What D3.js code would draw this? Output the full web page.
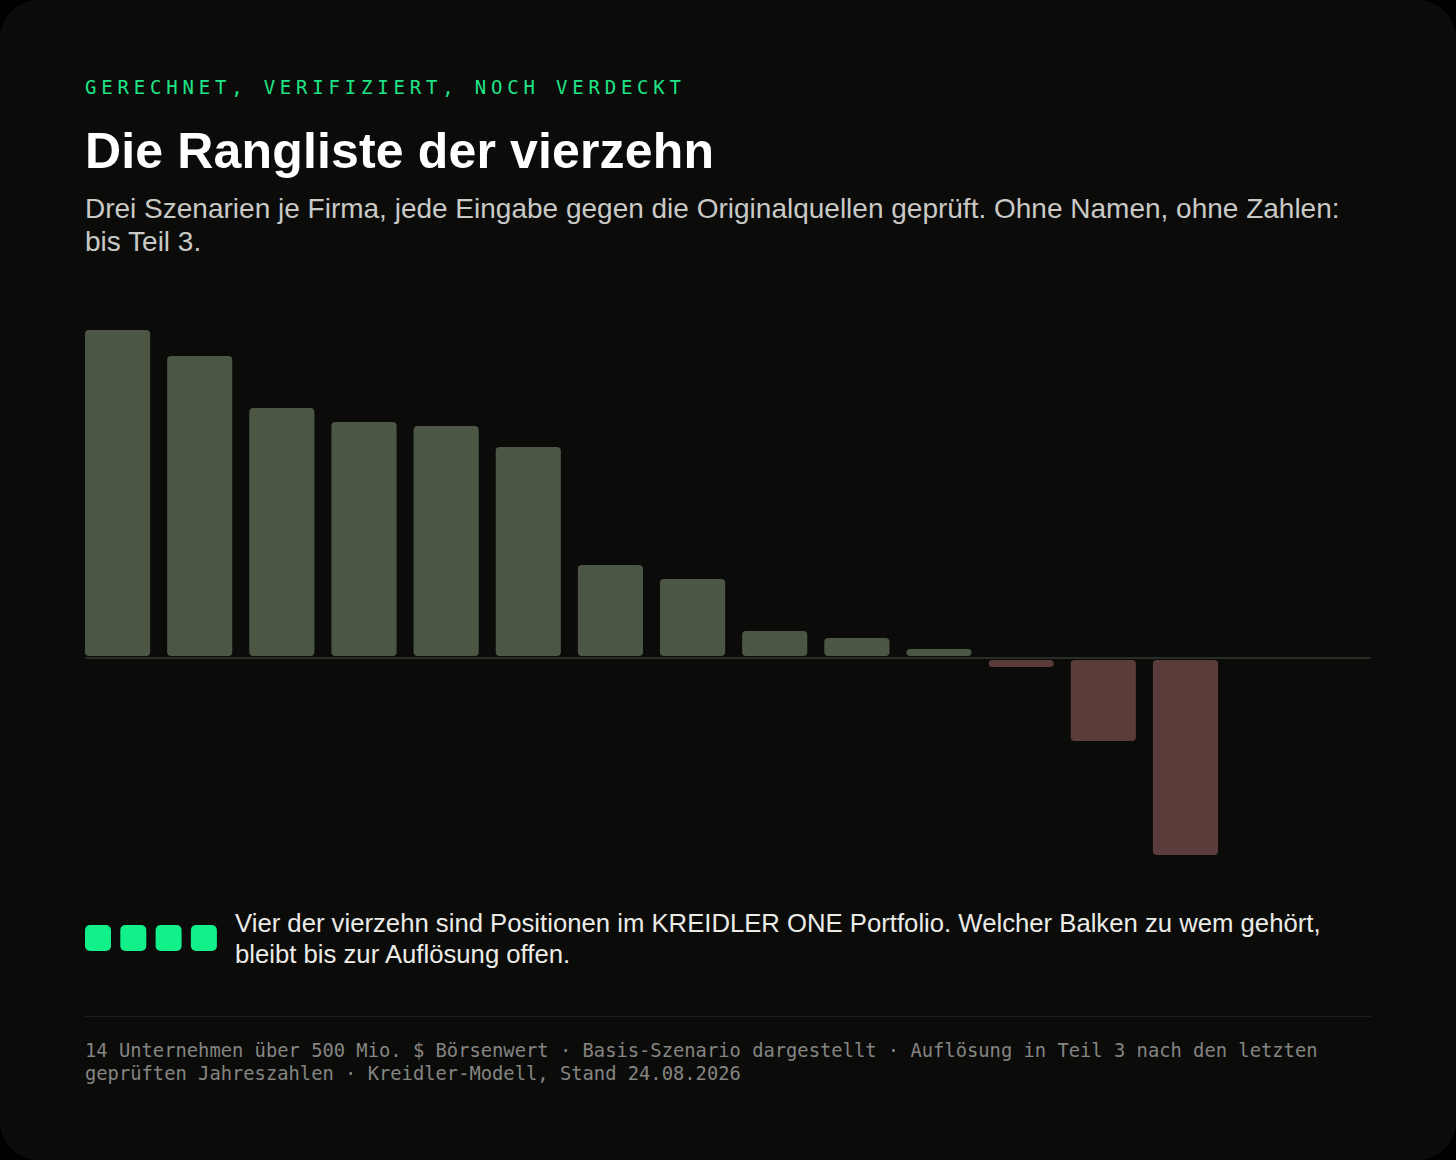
<!DOCTYPE html>
<meta charset="utf-8">
<html>
<head>
  <title>Die Rangliste der vierzehn</title>
  <style>
    html, body {
      margin: 0;
      padding: 0;
      background: #000;
    }
    #card {
      position: relative;
      width: 1456px;
      height: 1160px;
      background: #0b0b0a;
      border-radius: 38px;
      overflow: hidden;
    }
    .txt {
      position: absolute;
      left: 85px;
      width: 1290px;
      margin: 0;
    }
    #eyebrow {
      top: 78px;
      font-family: "DejaVu Sans Mono", monospace;
      font-size: 19px;
      line-height: 19px;
      letter-spacing: 4.8px;
      color: #1fe486;
    }
    #title {
      top: 126px;
      font-family: "Liberation Sans", Arial, sans-serif;
      font-weight: bold;
      font-size: 50px;
      line-height: 50px;
      letter-spacing: 0.15px;
      color: #fff;
    }
    #subtitle {
      top: 192px;
      font-family: "Liberation Sans", Arial, sans-serif;
      font-size: 28px;
      line-height: 33px;
      color: #c9c9c6;
    }
    #legendtext {
      top: 908px;
      left: 235px;
      width: 1136px;
      font-family: "Liberation Sans", Arial, sans-serif;
      font-size: 25.7px;
      line-height: 31px;
      color: #ebebe8;
    }
    #footer {
      top: 1040px;
      font-family: "DejaVu Sans Mono", monospace;
      font-size: 18.8px;
      line-height: 22.5px;
      color: #858582;
    }
    svg {
      position: absolute;
      left: 0;
      top: 0;
    }
  </style>
  <script src="https://d3js.org/d3.v7.min.js"></script>
</head>
<body>
  <div id="card">
    <svg width="1456" height="1160"></svg>
  </div>

  <script>
    // anonymised ranking: upside in the base scenario, in percent
    var ranks = ["1", "2", "3", "4", "5", "6", "7", "8", "9", "10", "11", "12", "13", "14"];
    var values = [164, 151, 125, 118, 116, 105.5, 46.5, 39.5, 13.5, 10, 4.5, -4.5, -41.5, -98.5];
    var portfolioCount = ["a", "b", "c", "d"];

    var eyebrow = "GERECHNET, VERIFIZIERT, NOCH VERDECKT";
    var title = "Die Rangliste der vierzehn";
    var subtitle = "Drei Szenarien je Firma, jede Eingabe gegen die Originalquellen geprüft. Ohne Namen, ohne Zahlen: bis Teil 3.";
    var legendText = "Vier der vierzehn sind Positionen im KREIDLER ONE Portfolio. Welcher Balken zu wem gehört, bleibt bis zur Auflösung offen.";
    var footer = "14 Unternehmen über 500 Mio. $ Börsenwert · Basis-Szenario dargestellt · Auflösung in Teil 3 nach den letzten geprüften Jahreszahlen · Kreidler-Modell, Stand 24.08.2026";

    var card = d3.select("#card");
    var svg = d3.select("svg");

    // texts
    card.append("div").attr("id", "eyebrow").attr("class", "txt").text(eyebrow);
    card.append("div").attr("id", "title").attr("class", "txt").text(title);
    card.append("div").attr("id", "subtitle").attr("class", "txt").text(subtitle);
    card.append("div").attr("id", "legendtext").attr("class", "txt").text(legendText);
    card.append("div").attr("id", "footer").attr("class", "txt").text(footer);

    // plot area
    var left = 85, right = 1371;

    var x = d3.scaleBand()
      .domain(ranks)
      .range([left, 1218])
      .paddingInner(0.207)
      .paddingOuter(0);

    var y = d3.scaleLinear()
      .domain([-100, 165])
      .range([858, 328]);

    var gap = 2;

    svg.append("g")
      .selectAll("rect")
      .data(values)
      .join("rect")
        .attr("x", function(d, i) { return x(ranks[i]); })
        .attr("width", x.bandwidth())
        .attr("y", function(d) { return d >= 0 ? y(d) : y(0) + gap; })
        .attr("height", function(d) { return Math.max(0, Math.abs(y(d) - y(0)) - gap); })
        .attr("rx", 4)
        .attr("fill", function(d) { return d >= 0 ? "#4b5744" : "#5a3c3a"; });

    // zero line
    svg.append("line")
      .attr("x1", left)
      .attr("x2", right)
      .attr("y1", y(0))
      .attr("y2", y(0))
      .attr("stroke", "#343a32")
      .attr("stroke-width", 1.5);

    // portfolio markers
    svg.append("g")
      .selectAll("rect")
      .data(portfolioCount)
      .join("rect")
        .attr("x", function(d, i) { return 85 + i * 35.3; })
        .attr("y", 925)
        .attr("width", 26)
        .attr("height", 26)
        .attr("rx", 5)
        .attr("fill", "#12f08a");

    // footer rule
    svg.append("line")
      .attr("x1", left)
      .attr("x2", right)
      .attr("y1", 1016.5)
      .attr("y2", 1016.5)
      .attr("stroke", "#1e1e1c")
      .attr("stroke-width", 1);
  </script>
</body>
</html>
